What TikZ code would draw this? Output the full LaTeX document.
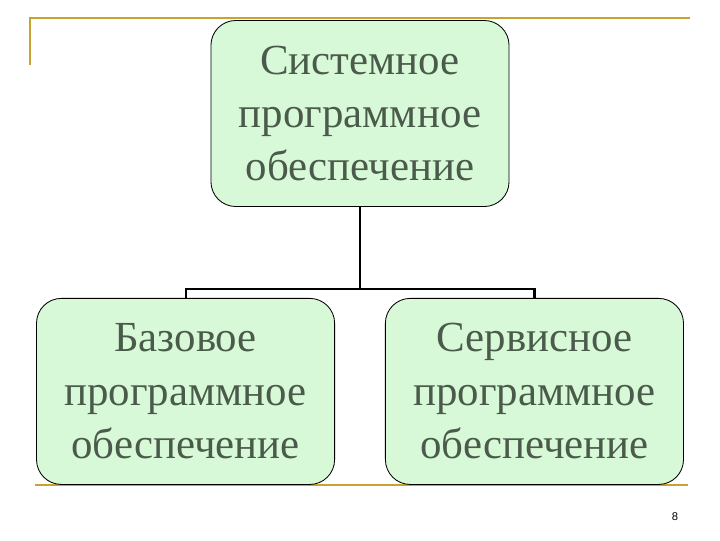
\documentclass[tikz,border=0pt]{standalone}
\usepackage{fontspec}
\setmainfont{Liberation Serif}
\newfontfamily\numfont{Liberation Sans}
\usepackage{tikz}
\usetikzlibrary{positioning, calc}
\definecolor{boxfill}{HTML}{D8F9D8}
\definecolor{boxtext}{HTML}{4B5B4B}
\definecolor{rulecol}{HTML}{C8A42E}
\tikzset{
  sysbox/.style={draw=black, rounded corners=0.62cm, fill=boxfill, line width=0.6pt,
                 minimum width=7.45cm, minimum height=4.65cm, align=center,
                 text=boxtext, font=\fontsize{30.5}{38}\selectfont},
  link/.style={line width=1.5pt},
  goldrule/.style={rulecol, line width=1.5pt},
}
\begin{document}
\begin{tikzpicture}[x=0.025cm, y=-0.025cm]
  \useasboundingbox (0,0) rectangle (720,540);

  % --- slide frame --------------------------------------------------
  \draw[goldrule] (30,65) -- (30,18) -- (690,18);
  \draw[goldrule] (35,485) -- (688,485);
  \node[font=\numfont\fontsize{8}{10}\selectfont] (pagenum) at (675,517) {8};

  % --- hierarchy ----------------------------------------------------
  \node[sysbox] (sys) at (360,113.5) {Системное\\программное\\обеспечение};
  \node[sysbox, below=2.275cm of sys, xshift=-4.36cm] (base) {Базовое\\программное\\обеспечение};
  \node[sysbox, below=2.275cm of sys, xshift=4.36cm] (serv) {Сервисное\\программное\\обеспечение};

  \coordinate (fork) at ($(base.north)+(0,-9)$);
  \draw[link] (base.north) -- (fork) -| (serv.north);
  \draw[link] (sys.south) -- (sys.south |- fork);

\end{tikzpicture}
\end{document}
